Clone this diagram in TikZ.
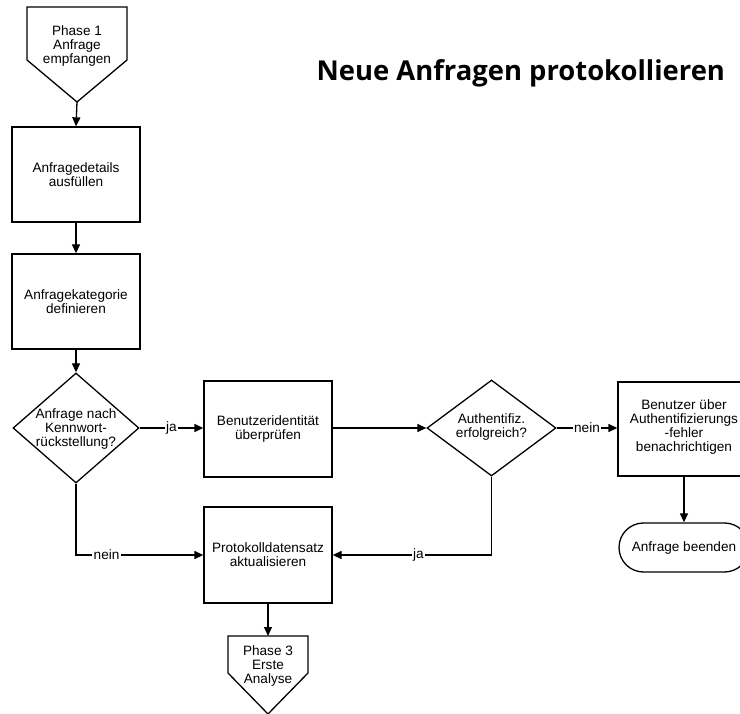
\documentclass[tikz,border=0pt]{standalone}
\usepackage{fontspec}
\setmainfont{Liberation Sans}
\newfontfamily\titlefont{Open Sans}
\usetikzlibrary{shapes.geometric,shapes.misc,arrows.meta}

\begin{document}
\begin{tikzpicture}[x=1pt,y=-1pt,
  every path/.style={line width=1.3pt},
  flow/.style={draw, line width=1.3pt},
  arr/.style={flow, -{Triangle[length=9pt,width=8pt]}},
  stepbox/.style={draw, line width=1.3pt, rectangle, inner sep=0pt},
  decision/.style={draw, line width=1.3pt, diamond, inner sep=0pt},
  term/.style={draw, line width=1.3pt, rounded rectangle, inner sep=0pt},
  txt/.style={align=center, font=\fontsize{13.6}{14}\selectfont, inner sep=0pt},
  lbl/.style={fill=white, inner sep=1.5pt, font=\fontsize{13.6}{14}\selectfont}
]
\useasboundingbox (0,0) rectangle (740,714);

% title
\node[anchor=base west, inner sep=0pt] (title) at (316,81)
  {\titlefont\bfseries\fontsize{27.4}{32}\selectfont Neue Anfragen protokollieren};

% off-page connector: phase 1
\draw[flow] (27,7) -- (127,7) -- (127,60) -- (77,102) -- (27,60) -- cycle;
\coordinate (p1tip) at (77,102);
\node[txt] (p1) at (77,46) {Phase 1\\Anfrage\\empfangen};

% process steps, left column
\node[stepbox, minimum width=128, minimum height=95] (details) at (76,174.5) {};
\node[txt] at (details) {Anfragedetails\\ausfüllen};
\node[stepbox, minimum width=128, minimum height=95] (kat) at (76,301.5) {};
\node[txt] at (kat) {Anfragekategorie\\definieren};

% decision: password reset
\node[decision, minimum width=126, minimum height=110] (pw) at (76,428) {};
\node[txt] at (76,429) {Anfrage nach\\Kennwort-\\rückstellung?};

% verify identity
\node[stepbox, minimum width=128, minimum height=96] (ident) at (268,429) {};
\node[txt] at (ident) {Benutzeridentität\\überprüfen};

% decision: authentication ok
\node[decision, minimum width=129, minimum height=96] (auth) at (491.5,428) {};
\node[txt] at (491.5,427) {Authentifiz.\\erfolgreich?};

% notify user of failure
\node[stepbox, minimum width=132, minimum height=94] (notify) at (684,429) {};
\node[txt] at (684,427) {Benutzer über\\Authentifizierungs\\-fehler\\benachrichtigen};

% end of request
\node[term, minimum width=130, minimum height=49] (ende) at (684,547.5) {};
\node[txt] at (ende) {Anfrage beenden};

% update log record
\node[stepbox, minimum width=128, minimum height=96] (log) at (268,555) {};
\node[txt] at (log) {Protokolldatensatz\\aktualisieren};

% off-page connector: phase 3
\draw[flow] (228,636) -- (308,636) -- (308,673) -- (268,714) -- (228,673) -- cycle;
\coordinate (p3top) at (268,636);
\node[txt] (p3) at (268,666) {Phase 3\\Erste\\Analyse};

% connectors
\draw[arr] (p1tip) -- (details.north);
\draw[arr] (details.south) -- (kat.north);
\draw[arr] (kat.south) -- (pw.north);
\draw[arr] (pw.east) -- node[lbl] {ja} (ident.west |- pw.east);
\draw[arr] (ident.east |- auth.west) -- (auth.west);
\draw[arr] (auth.east) -- node[lbl] {nein} (notify.west |- auth.east);
\draw[arr] (notify.south) -- (ende.north);
\draw[arr] (pw.south) |- node[lbl, pos=0.62] {nein} (log.west);
\draw[arr] (auth.south) |- node[lbl, pos=0.73] {ja} (log.east);
\draw[arr] (log.south) -- (p3top);
\end{tikzpicture}
\end{document}
